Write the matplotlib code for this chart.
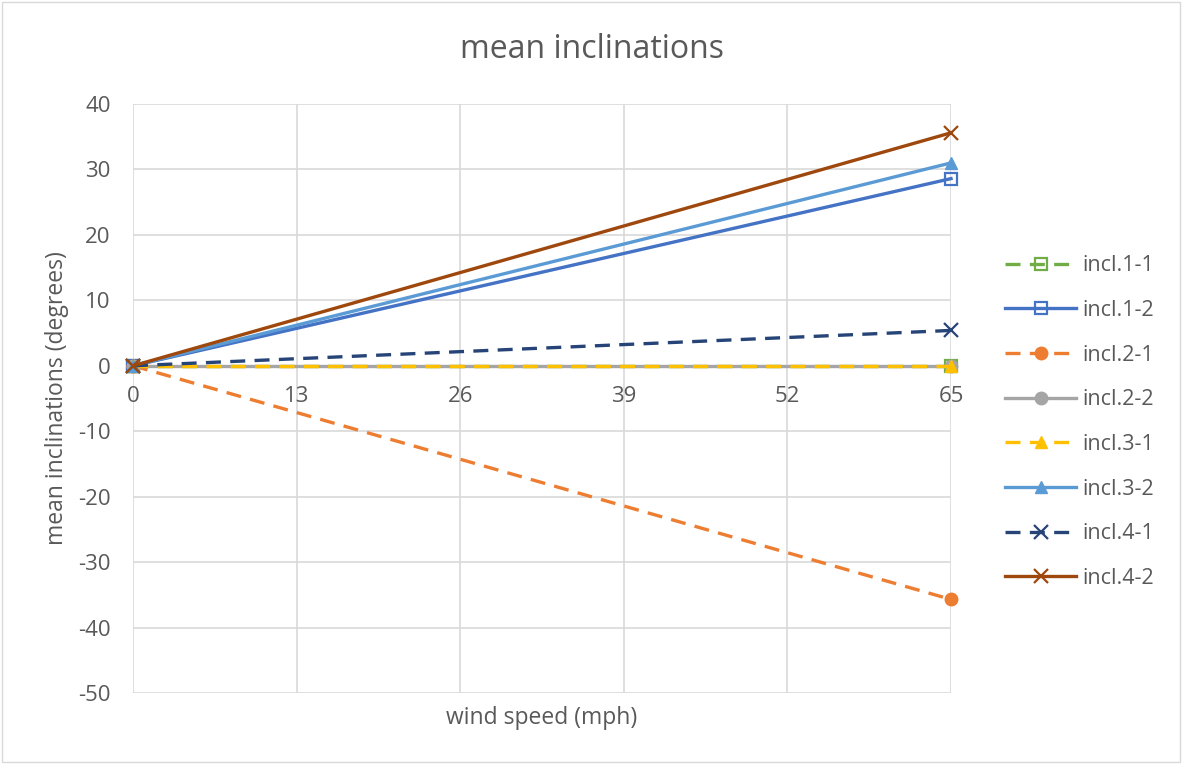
import numpy as np
import matplotlib.pyplot as plt
from matplotlib.patches import Rectangle

plt.rcParams['font.family'] = ['Open Sans', 'DejaVu Sans']
plt.rcParams['axes.unicode_minus'] = False

wind = [0, 65]
labels = ['incl.1-1', 'incl.1-2', 'incl.2-1', 'incl.2-2',
          'incl.3-1', 'incl.3-2', 'incl.4-1', 'incl.4-2']
incl_1_1 = [0, 0]
incl_1_2 = [0, 28.6]
incl_2_1 = [0, -35.7]
incl_2_2 = [0, 0]
incl_3_1 = [0, 0]
incl_3_2 = [0, 31.0]
incl_4_1 = [0, 5.4]
incl_4_2 = [0, 35.6]
series = [incl_1_1, incl_1_2, incl_2_1, incl_2_2,
          incl_3_1, incl_3_2, incl_4_1, incl_4_2]

colors = ['#70AD47', '#4472C4', '#ED7D31', '#A5A5A5',
          '#FFC000', '#5B9BD5', '#264478', '#9E480E']
dashed = [True, False, True, False, True, False, True, False]
markers = ['s', 's', 'o', 'o', '^', '^', 'x', 'x']
hollow = [True, True, False, False, False, False, False, False]

txt = '#595959'
grid = '#D9D9D9'

fig = plt.figure(figsize=(11.82, 7.64), dpi=100)
ax = fig.add_axes([133/1182, 1-693/764, (951-133)/1182, (693-104)/764])

for vals, lab, c, d, m, h in zip(series, labels, colors, dashed, markers, hollow):
    kw = dict(dashes=(4.5, 2.8)) if d else dict(linestyle='-')
    ax.plot(wind, vals, color=c, lw=2.4, marker=m,
            ms=9 if m != 'x' else 10,
            mew=1.6 if m in ('s', 'x') else 1,
            mfc='none' if h else c, mec=c, label=lab,
            clip_on=False, zorder=3, **kw)

ax.set_xlim(0, 65)
ax.set_ylim(-50, 40)
ax.set_xticks(np.arange(0, 66, 13))
ax.set_yticks(np.arange(-50, 41, 10))
ax.grid(True, color=grid, lw=1.2)
for s in ax.spines.values():
    s.set_visible(False)
ax.axhline(0, color='#BFBFBF', lw=1.2, zorder=2)
ax.tick_params(axis='both', length=0, labelsize=16, colors=txt)
ax.tick_params(axis='y', pad=16)
# category labels sit just under the zero line
ax.set_xticklabels([])
for xv in ax.get_xticks():
    ax.text(xv, -4.7, f'{int(xv)}', ha='center', va='center',
            fontsize=16, color=txt)

ax.set_xlabel('wind speed (mph)', fontsize=16.5, color=txt, va='center')
ax.xaxis.set_label_coords(0.5, -(718-693)/589)
ax.set_ylabel('mean inclinations (degrees)', fontsize=16.5, color=txt, va='center')
ax.yaxis.set_label_coords(-(133-57)/818, 0.5)
fig.text(592/1182, 1-50/764, 'mean inclinations', ha='center', va='center',
         fontsize=23, color=txt)

leg = ax.legend(loc='center left', bbox_to_anchor=(1.066, 0.46), frameon=False,
                fontsize=15.5, labelcolor=txt, handlelength=3.3,
                labelspacing=1.1, handletextpad=0.3,
                borderpad=0, borderaxespad=0)

fig.patches.append(Rectangle((0.002, 0.002), 0.996, 0.995, transform=fig.transFigure,
                             fill=False, edgecolor='#D9D9D9', lw=1))

fig.savefig('out.png', dpi=100)
